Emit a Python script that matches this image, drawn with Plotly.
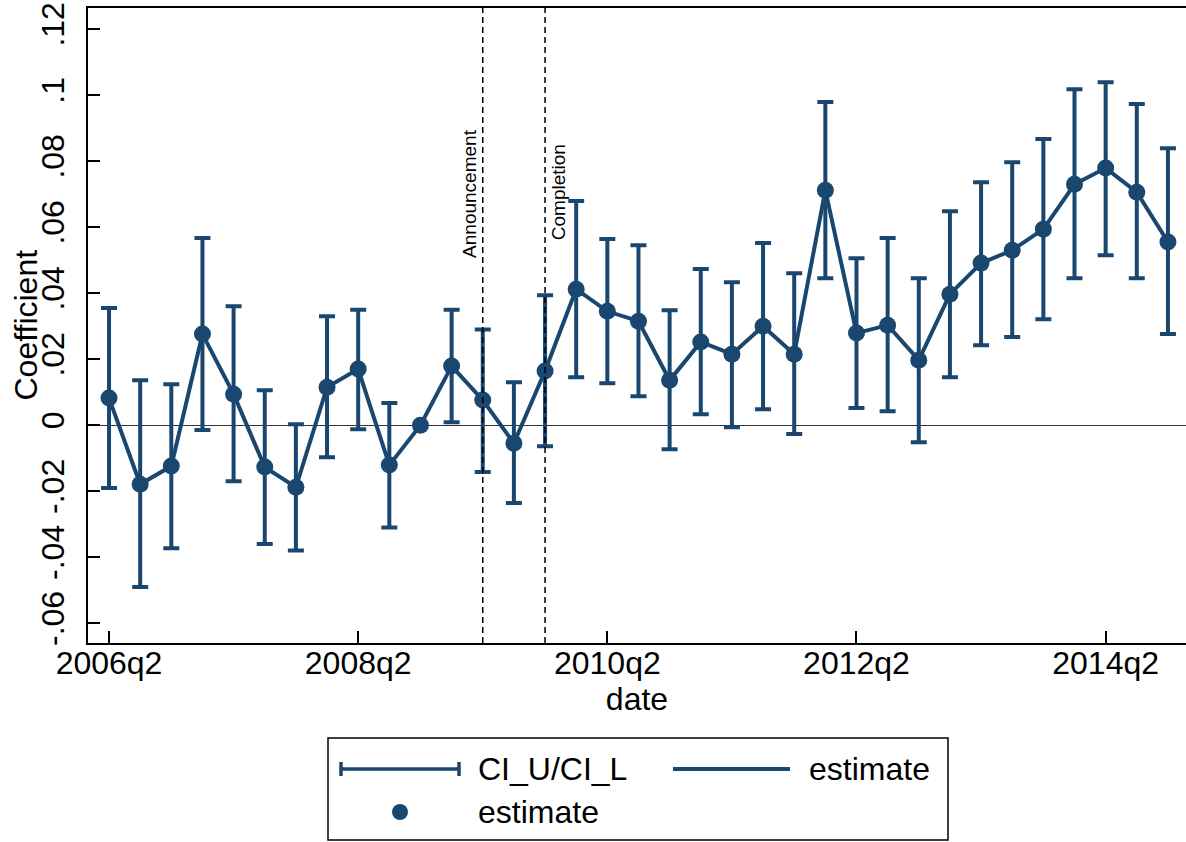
import plotly.graph_objects as go

quarters = ["2006q2", "2006q3", "2006q4", "2007q1", "2007q2", "2007q3", "2007q4",
            "2008q1", "2008q2", "2008q3", "2008q4", "2009q1", "2009q2", "2009q3",
            "2009q4", "2010q1", "2010q2", "2010q3", "2010q4", "2011q1", "2011q2",
            "2011q3", "2011q4", "2012q1", "2012q2", "2012q3", "2012q4", "2013q1",
            "2013q2", "2013q3", "2013q4", "2014q1", "2014q2", "2014q3", "2014q4"]

estimate = [0.0082, -0.0179, -0.0124, 0.0276, 0.0094, -0.0127, -0.0188, 0.0115, 0.0170,
            -0.0121, 0.0, 0.0179, 0.0076, -0.0055, 0.0164, 0.0412, 0.0345, 0.0315,
            0.0136, 0.0252, 0.0215, 0.0300, 0.0215, 0.0712, 0.0279, 0.0303, 0.0197,
            0.0397, 0.0491, 0.0530, 0.0594, 0.0730, 0.0779, 0.0706, 0.0555]

ci_u = [0.0355, 0.0136, 0.0124, 0.0567, 0.0360, 0.0106, 0.0003, 0.0330, 0.0350,
        0.0067, None, 0.0350, 0.0290, 0.0130, 0.0394, 0.0679, 0.0564, 0.0545,
        0.0348, 0.0473, 0.0433, 0.0552, 0.0460, 0.0979, 0.0506, 0.0567, 0.0445,
        0.0648, 0.0736, 0.0797, 0.0867, 0.1018, 0.1039, 0.0973, 0.0839]

ci_l = [-0.0190, -0.0490, -0.0373, -0.0015, -0.0170, -0.0360, -0.0380, -0.0097, -0.0012,
        -0.0310, None, 0.0009, -0.0142, -0.0236, -0.0064, 0.0145, 0.0127, 0.0088,
        -0.0073, 0.0033, -0.0006, 0.0048, -0.0027, 0.0445, 0.0052, 0.0042, -0.0052,
        0.0145, 0.0242, 0.0267, 0.0321, 0.0445, 0.0515, 0.0445, 0.0276]

x_ticks = ["2006q2", "2008q2", "2010q2", "2012q2", "2014q2"]
y_ticks = [-0.06, -0.04, -0.02, 0, 0.02, 0.04, 0.06, 0.08, 0.1, 0.12]
y_ticktext = ["-.06", "-.04", "-.02", "0", ".02", ".04", ".06", ".08", ".1", ".12"]

events = [("2009q2", "Announcement"), ("2009q4", "Completion")]

NAVY = "#1a476f"
FONT = "Liberation Sans, Arial, sans-serif"
FS = 32

# error bars only where a CI exists
ex, ey, eu, el = [], [], [], []
for q, e, u, l in zip(quarters, estimate, ci_u, ci_l):
    if u is not None and l is not None:
        ex.append(q)
        ey.append(e)
        eu.append(u - e)
        el.append(e - l)

fig = go.Figure()
fig.add_trace(go.Scatter(
    x=ex, y=ey, mode="markers", marker=dict(size=0.1, opacity=0),
    error_y=dict(type="data", symmetric=False, array=eu, arrayminus=el,
                 color=NAVY, thickness=4, width=8),
    showlegend=False, hoverinfo="skip"))
fig.add_trace(go.Scatter(
    x=quarters, y=estimate, mode="lines+markers",
    line=dict(color=NAVY, width=4),
    marker=dict(color=NAVY, size=17),
    showlegend=False))

# page pixel geometry (body margin removed, so page px == figure px)
L, R, T, B = 88, 1186, 8, 643
W, H = R - L, B - T
FIG_W, FIG_H = 1186, 842


def px(x):
    return (x - L) / W


def py(y):
    return (B - y) / H


shapes = []
annotations = []
for q, label in events:
    shapes.append(dict(type="line", xref="x", yref="paper", x0=q, x1=q, y0=0, y1=1,
                       line=dict(color="black", width=1.5, dash="6px,4px")))

annotations.append(dict(x=events[0][0], y=0.0500, xref="x", yref="y", text=events[0][1],
                        textangle=-90, xanchor="right", yanchor="bottom", showarrow=False,
                        font=dict(family=FONT, size=19, color="black"), xshift=-1))
annotations.append(dict(x=events[1][0], y=0.0553, xref="x", yref="y", text=events[1][1],
                        textangle=-90, xanchor="left", yanchor="bottom", showarrow=False,
                        font=dict(family=FONT, size=19, color="black"), xshift=1))

# y axis title
annotations.append(dict(x=px(25), y=0.5, xref="paper", yref="paper", text="Coefficient",
                        textangle=-90, xanchor="center", yanchor="middle", showarrow=False,
                        font=dict(family=FONT, size=FS, color="black")))

# custom legend
shapes.append(dict(type="rect", xref="paper", yref="paper", x0=px(328), x1=px(948),
                   y0=py(840), y1=py(738), line=dict(color="black", width=1.5),
                   fillcolor="white"))
shapes.append(dict(type="line", xref="paper", yref="paper", x0=px(340), x1=px(460),
                   y0=py(769), y1=py(769), line=dict(color=NAVY, width=3.5)))
for cx in (341, 459):
    shapes.append(dict(type="line", xref="paper", yref="paper", x0=px(cx), x1=px(cx),
                       y0=py(762), y1=py(776), line=dict(color=NAVY, width=3.5)))
shapes.append(dict(type="line", xref="paper", yref="paper", x0=px(673), x1=px(790),
                   y0=py(769), y1=py(769), line=dict(color=NAVY, width=4)))
shapes.append(dict(type="circle", xref="paper", yref="paper", x0=px(392), x1=px(408),
                   y0=py(820), y1=py(804), fillcolor=NAVY, line=dict(color=NAVY, width=0)))
for tx, ty, txt in [(476, 769, "CI_U/CI_L"), (807, 769, "estimate"), (476, 812, "estimate")]:
    annotations.append(dict(x=px(tx), y=py(ty), xref="paper", yref="paper", text=txt,
                            xanchor="left", yanchor="middle", showarrow=False,
                            font=dict(family=FONT, size=FS, color="black")))

fig.update_layout(
    width=FIG_W, height=FIG_H,
    margin=dict(l=L, r=FIG_W - R, t=T, b=FIG_H - B, pad=0),
    paper_bgcolor="white", plot_bgcolor="white",
    font=dict(family=FONT, size=FS, color="black"),
    shapes=shapes, annotations=annotations,
    showlegend=False,
)
fig.update_xaxes(
    type="category", categoryorder="array", categoryarray=quarters,
    range=[-0.675, 34.58], automargin=False,
    tickmode="array", tickvals=x_ticks, ticktext=x_ticks,
    ticks="inside", ticklen=12, tickwidth=1.5, tickcolor="black",
    showline=True, linecolor="black", linewidth=2, mirror=True,
    showgrid=False, zeroline=False,
    tickfont=dict(family=FONT, size=FS), ticklabelstandoff=-9,
    title=dict(text="date", font=dict(family=FONT, size=FS), standoff=3),
)
fig.update_yaxes(
    range=[-0.066, 0.1264], automargin=False,
    tickmode="array", tickvals=y_ticks, ticktext=y_ticktext, tickangle=-90,
    ticks="inside", ticklen=12, tickwidth=1.5, tickcolor="black",
    showline=True, linecolor="black", linewidth=2,
    showgrid=False, zeroline=True, zerolinecolor="#333333", zerolinewidth=1,
    tickfont=dict(family=FONT, size=FS), ticklabelstandoff=9,
    ticklabeloverflow="allow",
)

fig.write_html("out.html", config={"displayModeBar": False},
               post_script="document.body.style.margin='0';document.body.style.overflow='hidden';")
